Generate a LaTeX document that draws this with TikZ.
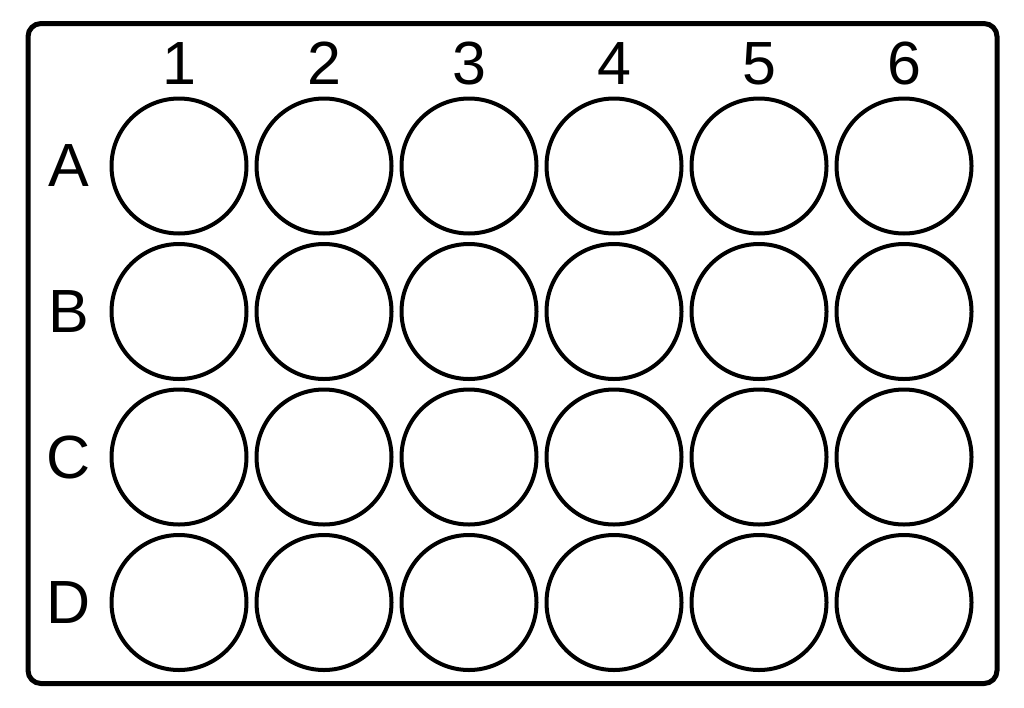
\documentclass[tikz,border=0pt]{standalone}
\usepackage{fontspec}
\setmainfont{Liberation Sans}
\usepackage{tikz}
\usetikzlibrary{positioning,calc}

\begin{document}
\begin{tikzpicture}[x=1pt,y=-1pt,
            plate/.style={rectangle, draw, line width=5pt, rounded corners=13pt, minimum width=969pt, minimum height=660pt, inner sep=0pt},
            well/.style={circle, draw, line width=4pt, minimum size=135pt, inner sep=0pt},
            tag/.style={font=\fontsize{61}{72}\selectfont, inner sep=0pt}]

            \useasboundingbox (0,0) rectangle (1024,707);

            % Plate outline
            \node[plate] (plate) at (512.5,353.5) {};

            % Wells
            \foreach \row/\y in {A/166,B/311.5,C/457,D/602.5}{
                \foreach \col in {1,...,6}{
                    \node[well] (\row\col) at ({179+145*(\col-1)},\y) {};
                }
            }

            % Column numbers
            \foreach \col in {1,...,6}{
                \node[tag, anchor=base] (n\col) at ($(A\col.north)+(0,-12)$) {\col};
            }

            % Row letters
            \foreach \row in {A,B,C,D}{
                \node[tag] (l\row) at ($(\row1.center)+(-110,0)$) {\row};
            }
        \end{tikzpicture}
\end{document}
